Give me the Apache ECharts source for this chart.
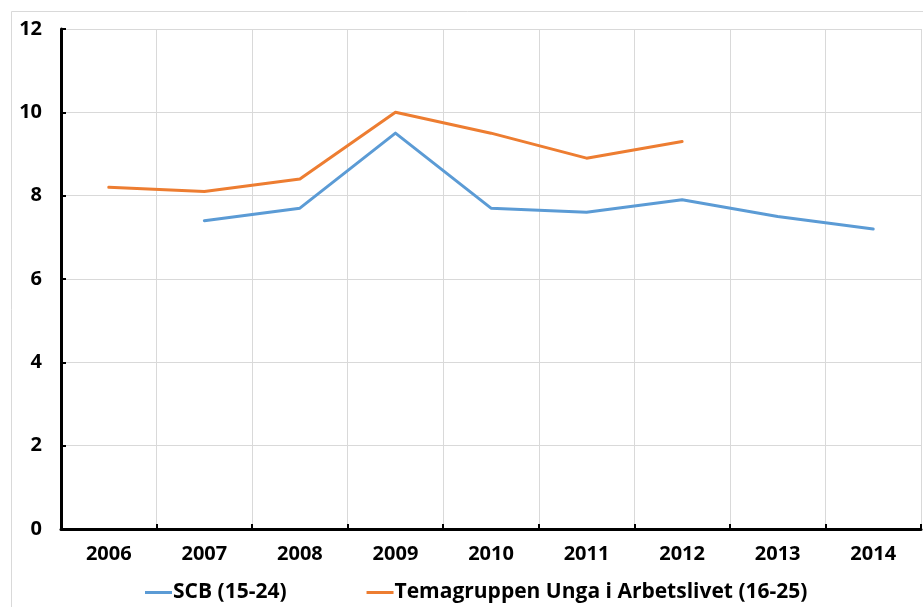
<!DOCTYPE html>
<html>
<head>
<meta charset="utf-8">
<script src="https://cdn.jsdelivr.net/npm/echarts@6/dist/echarts.min.js"></script>
<style>
  html, body { margin: 0; padding: 0; background: #fff; }
  #chart { width: 923px; height: 607px; }
</style>
</head>
<body>
<div id="chart"></div>
<script>
// årtal och värden
const years = ['2006', '2007', '2008', '2009', '2010', '2011', '2012', '2013', '2014'];
const scb = [null, 7.4, 7.7, 9.5, 7.7, 7.6, 7.9, 7.5, 7.2];
const temagruppen = [8.2, 8.1, 8.4, 10.0, 9.5, 8.9, 9.3, null, null];
const seriesNames = ['SCB (15-24)', 'Temagruppen Unga i Arbetslivet (16-25)'];

const font = '"Open Sans", "Noto Sans", sans-serif';
const chart = echarts.init(document.getElementById('chart'), null, { renderer: 'canvas' });

chart.setOption({
  backgroundColor: '#fff',
  animation: false,
  graphic: [{
    type: 'rect',
    shape: { x: 11.5, y: 11.5, width: 1000, height: 1000 },
    style: { fill: 'none', stroke: '#d9d9d9', lineWidth: 1 },
    silent: true
  }],
  grid: { left: 61, right: 2, top: 29, bottom: 78 },
  legend: {
    top: 577,
    left: 140,
    itemGap: 80,
    itemWidth: 27,
    itemHeight: 3,
    icon: 'rect',
    textStyle: { fontFamily: font, fontWeight: 'bold', fontSize: 21, color: '#000', padding: [0, 0, 0, -4] },
    data: seriesNames
  },
  xAxis: {
    type: 'category',
    data: years,
    boundaryGap: true,
    axisLine: { lineStyle: { color: '#000', width: 3 } },
    axisTick: { show: true, inside: true, length: 5, lineStyle: { color: '#000', width: 2 } },
    splitLine: { show: true, lineStyle: { color: '#d9d9d9', width: 1 } },
    axisLabel: { fontFamily: font, fontWeight: 'bold', fontSize: 20, color: '#000', margin: 15 }
  },
  yAxis: {
    type: 'value',
    min: 0,
    max: 12,
    interval: 2,
    axisLine: { show: true, lineStyle: { color: '#000', width: 3 } },
    axisTick: { show: true, inside: true, length: 5, lineStyle: { color: '#000', width: 2 } },
    splitLine: { show: true, lineStyle: { color: '#d9d9d9', width: 1 } },
    axisLabel: { fontFamily: font, fontWeight: 'bold', fontSize: 20, color: '#000', margin: 19 }
  },
  series: [
    {
      name: seriesNames[0],
      type: 'line',
      data: scb,
      symbol: 'none',
      lineStyle: { color: '#5b9bd5', width: 3, cap: 'round', join: 'round' },
      itemStyle: { color: '#5b9bd5' }
    },
    {
      name: seriesNames[1],
      type: 'line',
      data: temagruppen,
      symbol: 'none',
      lineStyle: { color: '#ed7d31', width: 3, cap: 'round', join: 'round' },
      itemStyle: { color: '#ed7d31' }
    }
  ]
});
</script>
</body>
</html>
